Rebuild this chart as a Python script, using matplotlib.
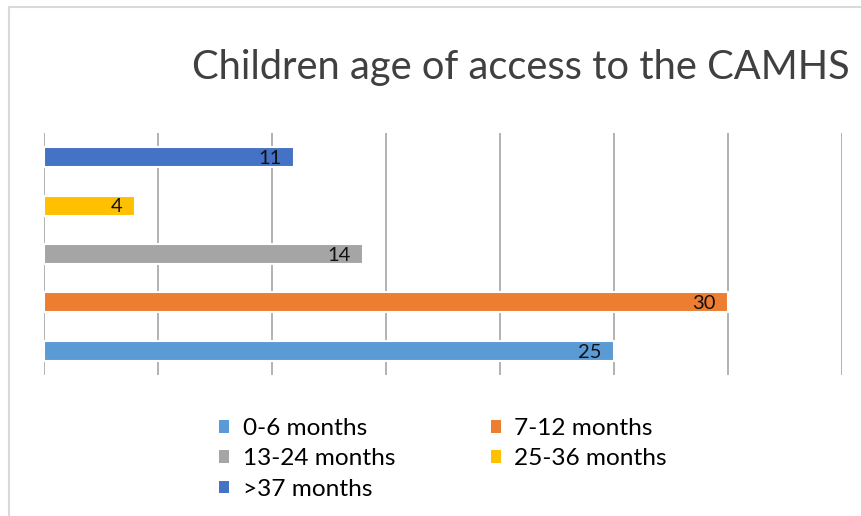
import matplotlib.pyplot as plt
from matplotlib.lines import Line2D
from matplotlib.patches import Patch

# data, bottom bar first
categories = ["0-6 months", "7-12 months", "13-24 months", "25-36 months", ">37 months"]
values = [25, 30, 14, 4, 11]
colors = ["#5B9BD5", "#ED7D31", "#A5A5A5", "#FFC000", "#4472C4"]
title = "Children age of access to the CAMHS"

plt.rcParams['font.family'] = ['Lato', 'DejaVu Sans']

fig = plt.figure(figsize=(8.61, 5.16), dpi=100)
ax = fig.add_axes([43.5 / 861, 1 - 375 / 516, (842 - 43.5) / 861, (375 - 133) / 516])

pos = list(range(len(categories)))
bars = ax.barh(pos, values, height=0.41, color=colors, edgecolor="white",
               linewidth=1.5, zorder=3)

for b, v in zip(bars, values):
    ax.annotate(str(v), (v, b.get_y() + b.get_height() / 2), xytext=(-9, -1),
                textcoords="offset points", ha="right", va="center",
                fontsize=14.5, color="#111111", zorder=4)

ax.set_xlim(0, 35)
ax.set_ylim(-0.5, 4.5)
ax.set_xticks(range(0, 36, 5))
ax.set_yticks([])
ax.tick_params(axis="x", length=0, labelbottom=False)
ax.grid(axis="x", color="#A6A6A6", linewidth=1.2, zorder=1)
for s in ax.spines.values():
    s.set_visible(False)

fig.text(520.5 / 861, 1 - 68 / 516, title, ha="center", va="center",
         fontsize=28.7, color="#404040")

# legend row-wise: reorder for column-major filling
order = [0, 2, 4, 1, 3]
handles = [Patch(facecolor=colors[i], edgecolor="none") for i in order]
labels = [categories[i] for i in order]
fig.legend(handles, labels, ncol=2, loc="upper left", bbox_to_anchor=(219 / 861, 1 - 418 / 516),
           frameon=False, fontsize=17.6, handlelength=0.42, handleheight=0.42,
           handletextpad=0.55, columnspacing=3.9, labelspacing=0.38,
           borderpad=0, borderaxespad=0)

# light chart border on top and left
fig.add_artist(Line2D([8.5 / 861, 1], [1 - 6.5 / 516] * 2, color="#D9D9D9", linewidth=1.5))
fig.add_artist(Line2D([8.5 / 861] * 2, [0, 1 - 6.5 / 516], color="#D9D9D9", linewidth=1.5))

fig.savefig("out.png", dpi=100)
